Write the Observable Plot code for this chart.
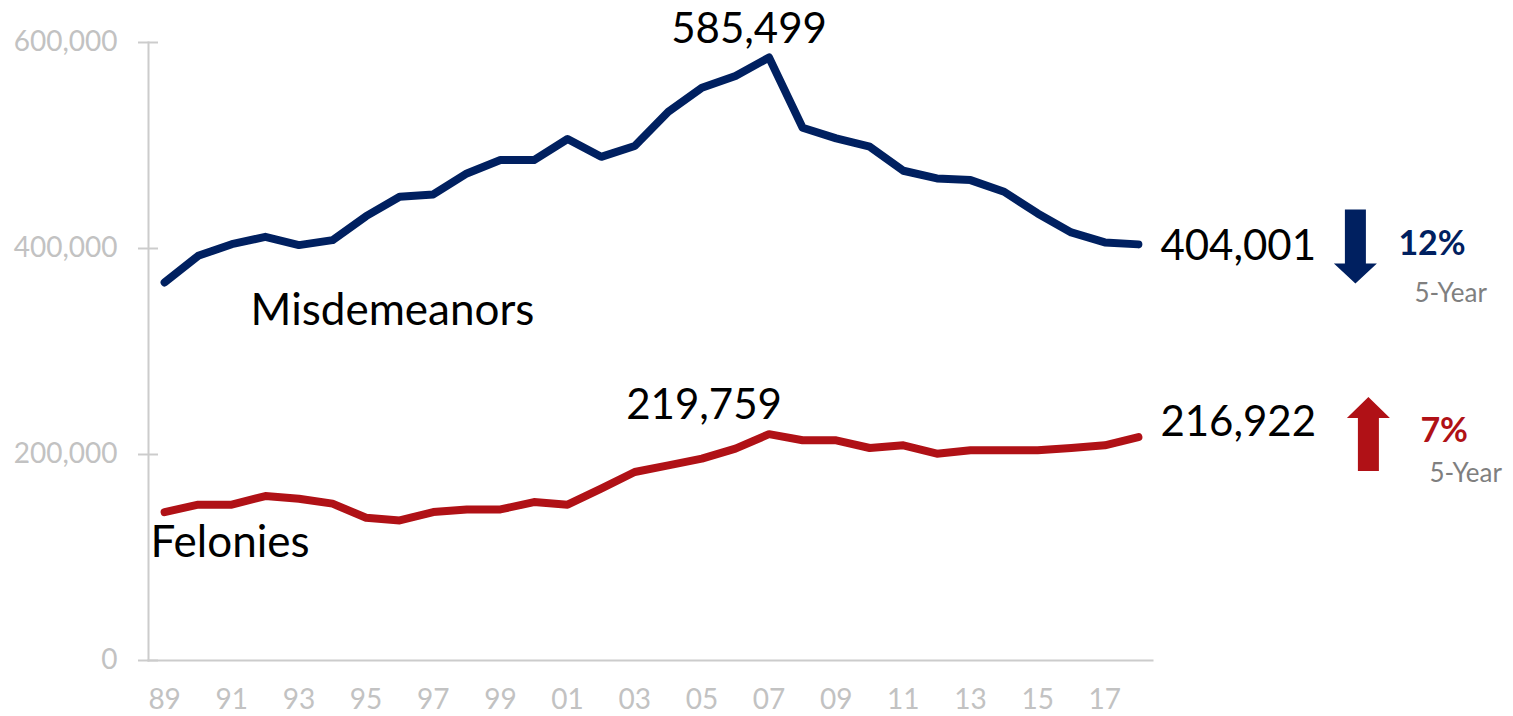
<!DOCTYPE html>
<html><head><meta charset="utf-8">
<script src="https://cdn.jsdelivr.net/npm/d3@7"></script>
<script src="https://cdn.jsdelivr.net/npm/@observablehq/plot@0.6"></script>
<style>body{margin:0;background:#fff;overflow:hidden}</style>
</head><body><div id="chart"></div>
<script>
const years = [1989,1990,1991,1992,1993,1994,1995,1996,1997,1998,1999,2000,2001,2002,2003,2004,2005,2006,2007,2008,2009,2010,2011,2012,2013,2014,2015,2016,2017,2018];
const misdemeanors = [367000,392900,404200,411300,403300,408100,431400,450200,452500,472900,485900,485900,506300,489000,499500,532800,556100,567500,585499,517200,506900,498800,475500,468000,466400,455100,434000,415600,405900,404001];
const felonies = [144100,151300,151300,159700,157100,152300,138600,136000,144100,146700,146700,153800,151300,166800,183000,189500,196000,205700,219759,213800,213800,206300,208900,200800,204100,204100,204100,206300,208900,216922];
const yTicks = [0,200000,400000,600000];
const xTicks = [1989,1991,1993,1995,1997,1999,2001,2003,2005,2007,2009,2011,2013,2015,2017];
const seriesNames = ["Misdemeanors","Felonies"];
const seriesColors = ["#002060","#B01116"];
const peakLabels = ["585,499","219,759"];
const lastLabels = ["404,001","216,922"];
const changeLabels = ["12%","7%"];
const periodLabel = "5-Year";

const seriesValues = [misdemeanors, felonies];
const rows = [];
seriesNames.forEach((s, i) => years.forEach((yr, j) => rows.push({series: s, year: yr, value: seriesValues[i][j]})));
const n = years.length;
const peakIdx = seriesValues.map(v => v.indexOf(d3.max(v)));
const info = seriesNames.map((s, i) => ({
  series: s, color: seriesColors[i],
  first: {year: years[0], value: seriesValues[i][0], text: s},
  last: {year: years[n-1], value: seriesValues[i][n-1], text: lastLabels[i], change: changeLabels[i], period: periodLabel, color: seriesColors[i]},
  peak: {year: years[peakIdx[i]], value: seriesValues[i][peakIdx[i]], text: peakLabels[i]}
}));

const arrowDown = {draw(ctx){ctx.moveTo(-10.5,-37);ctx.lineTo(10.5,-37);ctx.lineTo(10.5,17);ctx.lineTo(21.5,17);ctx.lineTo(0,37);ctx.lineTo(-21.5,17);ctx.lineTo(-10.5,17);ctx.closePath();}};
const arrowUp = {draw(ctx){ctx.moveTo(-10.5,37);ctx.lineTo(10.5,37);ctx.lineTo(10.5,-16);ctx.lineTo(21.5,-16);ctx.lineTo(0,-37);ctx.lineTo(-21.5,-16);ctx.lineTo(-10.5,-16);ctx.closePath();}};

const base = {x: "year", y: "value", lineAnchor: "bottom"};
const [mis, fel] = info;

const chart = Plot.plot({
  width: 1513, height: 716,
  marginLeft: 148, marginRight: 361, marginTop: 42, marginBottom: 56,
  x: {domain: [1988.52, 2018.42]},
  y: {domain: [0, 600000]},
  style: {fontFamily: "Lato, sans-serif", background: "#fff", overflow: "visible"},
  marks: [
    Plot.frame({anchor: "left", stroke: "#cccccc", strokeWidth: 2}),
    Plot.frame({anchor: "bottom", stroke: "#cccccc", strokeWidth: 2}),
    Plot.axisY(yTicks, {tickSize: 20, dx: 10, text: null, color: "#cccccc", strokeWidth: 2, label: null}),
    Plot.axisY(yTicks, {tickSize: 0, tickPadding: 31, tickFormat: d3.format(","), fontSize: 28, color: "#c2c2c2", label: null}),
    Plot.axisX(xTicks, {tickSize: 0, tickPadding: 29, tickFormat: d => String(d % 100).padStart(2, "0"), fontSize: 28, color: "#c2c2c2", label: null}),
    Plot.line(rows, {x: "year", y: "value", z: "series", stroke: d => seriesColors[seriesNames.indexOf(d.series)], strokeWidth: 8, strokeLinecap: "round", strokeLinejoin: "round"}),
    // peak labels
    Plot.text([mis.peak], {...base, text: "text", textAnchor: "middle", dx: -20, dy: -14, fontSize: 42, fill: "#000"}),
    Plot.text([fel.peak], {...base, text: "text", textAnchor: "middle", dx: -65, dy: -15, fontSize: 42, fill: "#000"}),
    // last value labels
    Plot.text([mis.last], {...base, text: "text", textAnchor: "start", dx: 22, dy: 16, fontSize: 42, fill: "#000"}),
    Plot.text([fel.last], {...base, text: "text", textAnchor: "start", dx: 22, dy: -1, fontSize: 42, fill: "#000"}),
    // series names
    Plot.text([mis.first], {...base, text: "text", textAnchor: "start", dx: 86, dy: 43, fontSize: 44, fill: "#000"}),
    Plot.text([fel.first], {...base, text: "text", textAnchor: "start", dx: -14, dy: 45, fontSize: 44, fill: "#000"}),
    // arrows
    Plot.dot([mis.last], {x: "year", y: "value", symbol: arrowDown, fill: "color", stroke: null, dx: 217, dy: 2}),
    Plot.dot([fel.last], {x: "year", y: "value", symbol: arrowUp, fill: "color", stroke: null, dx: 230, dy: -3}),
    // change labels
    Plot.text([mis.last], {...base, text: "change", fill: "color", fontWeight: "bold", fontSize: 34, textAnchor: "start", dx: 260, dy: 11}),
    Plot.text([fel.last], {...base, text: "change", fill: "color", fontWeight: "bold", fontSize: 34, textAnchor: "start", dx: 282, dy: 5}),
    Plot.text([mis.last], {...base, text: "period", fill: "#7f7f7f", fontSize: 26, textAnchor: "start", dx: 276, dy: 58}),
    Plot.text([fel.last], {...base, text: "period", fill: "#7f7f7f", fontSize: 26, textAnchor: "start", dx: 291, dy: 45})
  ]
});
document.getElementById("chart").append(chart);
</script>
</body></html>
